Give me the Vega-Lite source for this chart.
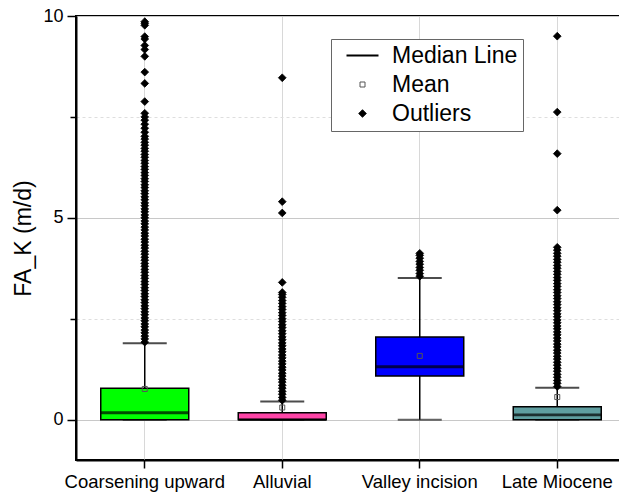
{
  "$schema": "https://vega.github.io/schema/vega-lite/v6.json",
  "width": 550,
  "height": 444,
  "autosize": {"type": "none"},
  "padding": {"left": 76, "top": 16, "right": 0, "bottom": 35},
  "config": {
    "view": {"stroke": "black", "strokeWidth": 2},
    "font": "Liberation Sans",
    "legend": {
      "labelFont": "Liberation Sans",
      "labelFontSize": 23,
      "labelColor": "black",
      "strokeColor": "#666666",
      "fillColor": "white",
      "padding": 5,
      "rowPadding": 5,
      "labelOffset": 18,
      "symbolOffset": 15,
      "symbolOpacity": 1
    }
  },
  "datasets": {
    "boxes": [
      {"cat": "Coarsening upward", "q1": 0, "q3": 0.78, "med": 0.17, "mean": 0.76, "lo": 0, "hi": 1.89},
      {"cat": "Alluvial", "q1": 0, "q3": 0.17, "med": 0.0, "mean": 0.3, "lo": 0, "hi": 0.45},
      {"cat": "Valley incision", "q1": 1.08, "q3": 2.05, "med": 1.31, "mean": 1.58, "lo": 0, "hi": 3.51},
      {"cat": "Late Miocene", "q1": 0, "q3": 0.32, "med": 0.12, "mean": 0.56, "lo": 0, "hi": 0.79}
    ],
    "outliers": [
      {"cat": "Coarsening upward", "v": 1.92}, {"cat": "Coarsening upward", "v": 2.0}, {"cat": "Coarsening upward", "v": 2.07}, {"cat": "Coarsening upward", "v": 2.15}, {"cat": "Coarsening upward", "v": 2.22}, {"cat": "Coarsening upward", "v": 2.3}, {"cat": "Coarsening upward", "v": 2.37}, {"cat": "Coarsening upward", "v": 2.45}, {"cat": "Coarsening upward", "v": 2.52}, {"cat": "Coarsening upward", "v": 2.6}, {"cat": "Coarsening upward", "v": 2.67}, {"cat": "Coarsening upward", "v": 2.75}, {"cat": "Coarsening upward", "v": 2.82}, {"cat": "Coarsening upward", "v": 2.9}, {"cat": "Coarsening upward", "v": 2.97}, {"cat": "Coarsening upward", "v": 3.05}, {"cat": "Coarsening upward", "v": 3.12}, {"cat": "Coarsening upward", "v": 3.2}, {"cat": "Coarsening upward", "v": 3.27}, {"cat": "Coarsening upward", "v": 3.35}, {"cat": "Coarsening upward", "v": 3.42}, {"cat": "Coarsening upward", "v": 3.5}, {"cat": "Coarsening upward", "v": 3.57}, {"cat": "Coarsening upward", "v": 3.65}, {"cat": "Coarsening upward", "v": 3.72}, {"cat": "Coarsening upward", "v": 3.8}, {"cat": "Coarsening upward", "v": 3.87}, {"cat": "Coarsening upward", "v": 3.95}, {"cat": "Coarsening upward", "v": 4.02}, {"cat": "Coarsening upward", "v": 4.1}, {"cat": "Coarsening upward", "v": 4.17}, {"cat": "Coarsening upward", "v": 4.25}, {"cat": "Coarsening upward", "v": 4.32}, {"cat": "Coarsening upward", "v": 4.4}, {"cat": "Coarsening upward", "v": 4.47}, {"cat": "Coarsening upward", "v": 4.55}, {"cat": "Coarsening upward", "v": 4.62}, {"cat": "Coarsening upward", "v": 4.7}, {"cat": "Coarsening upward", "v": 4.77}, {"cat": "Coarsening upward", "v": 4.85}, {"cat": "Coarsening upward", "v": 4.92}, {"cat": "Coarsening upward", "v": 5.0}, {"cat": "Coarsening upward", "v": 5.07}, {"cat": "Coarsening upward", "v": 5.15}, {"cat": "Coarsening upward", "v": 5.22}, {"cat": "Coarsening upward", "v": 5.3}, {"cat": "Coarsening upward", "v": 5.37}, {"cat": "Coarsening upward", "v": 5.45}, {"cat": "Coarsening upward", "v": 5.52}, {"cat": "Coarsening upward", "v": 5.6}, {"cat": "Coarsening upward", "v": 5.67}, {"cat": "Coarsening upward", "v": 5.75}, {"cat": "Coarsening upward", "v": 5.82}, {"cat": "Coarsening upward", "v": 5.9}, {"cat": "Coarsening upward", "v": 5.97}, {"cat": "Coarsening upward", "v": 6.05}, {"cat": "Coarsening upward", "v": 6.12}, {"cat": "Coarsening upward", "v": 6.2}, {"cat": "Coarsening upward", "v": 6.27}, {"cat": "Coarsening upward", "v": 6.35}, {"cat": "Coarsening upward", "v": 6.42}, {"cat": "Coarsening upward", "v": 6.5}, {"cat": "Coarsening upward", "v": 6.57}, {"cat": "Coarsening upward", "v": 6.65}, {"cat": "Coarsening upward", "v": 6.72}, {"cat": "Coarsening upward", "v": 6.8}, {"cat": "Coarsening upward", "v": 6.87}, {"cat": "Coarsening upward", "v": 6.95}, {"cat": "Coarsening upward", "v": 7.02}, {"cat": "Coarsening upward", "v": 7.12}, {"cat": "Coarsening upward", "v": 7.22}, {"cat": "Coarsening upward", "v": 7.32}, {"cat": "Coarsening upward", "v": 7.42}, {"cat": "Coarsening upward", "v": 7.5}, {"cat": "Coarsening upward", "v": 7.59}, {"cat": "Coarsening upward", "v": 7.88}, {"cat": "Coarsening upward", "v": 8.33}, {"cat": "Coarsening upward", "v": 8.61}, {"cat": "Coarsening upward", "v": 9.0}, {"cat": "Coarsening upward", "v": 9.17}, {"cat": "Coarsening upward", "v": 9.27}, {"cat": "Coarsening upward", "v": 9.43}, {"cat": "Coarsening upward", "v": 9.49}, {"cat": "Coarsening upward", "v": 9.77}, {"cat": "Coarsening upward", "v": 9.82}, {"cat": "Coarsening upward", "v": 9.86},
      {"cat": "Alluvial", "v": 0.48}, {"cat": "Alluvial", "v": 0.55}, {"cat": "Alluvial", "v": 0.63}, {"cat": "Alluvial", "v": 0.7}, {"cat": "Alluvial", "v": 0.78}, {"cat": "Alluvial", "v": 0.85}, {"cat": "Alluvial", "v": 0.93}, {"cat": "Alluvial", "v": 1.0}, {"cat": "Alluvial", "v": 1.08}, {"cat": "Alluvial", "v": 1.15}, {"cat": "Alluvial", "v": 1.23}, {"cat": "Alluvial", "v": 1.3}, {"cat": "Alluvial", "v": 1.38}, {"cat": "Alluvial", "v": 1.45}, {"cat": "Alluvial", "v": 1.53}, {"cat": "Alluvial", "v": 1.6}, {"cat": "Alluvial", "v": 1.68}, {"cat": "Alluvial", "v": 1.75}, {"cat": "Alluvial", "v": 1.83}, {"cat": "Alluvial", "v": 1.9}, {"cat": "Alluvial", "v": 1.98}, {"cat": "Alluvial", "v": 2.05}, {"cat": "Alluvial", "v": 2.13}, {"cat": "Alluvial", "v": 2.2}, {"cat": "Alluvial", "v": 2.28}, {"cat": "Alluvial", "v": 2.35}, {"cat": "Alluvial", "v": 2.43}, {"cat": "Alluvial", "v": 2.5}, {"cat": "Alluvial", "v": 2.58}, {"cat": "Alluvial", "v": 2.65}, {"cat": "Alluvial", "v": 2.73}, {"cat": "Alluvial", "v": 2.8}, {"cat": "Alluvial", "v": 2.88}, {"cat": "Alluvial", "v": 2.95}, {"cat": "Alluvial", "v": 3.03}, {"cat": "Alluvial", "v": 3.1}, {"cat": "Alluvial", "v": 3.15}, {"cat": "Alluvial", "v": 3.4}, {"cat": "Alluvial", "v": 5.12}, {"cat": "Alluvial", "v": 5.4}, {"cat": "Alluvial", "v": 8.47},
      {"cat": "Valley incision", "v": 3.55}, {"cat": "Valley incision", "v": 3.62}, {"cat": "Valley incision", "v": 3.7}, {"cat": "Valley incision", "v": 3.77}, {"cat": "Valley incision", "v": 3.85}, {"cat": "Valley incision", "v": 3.92}, {"cat": "Valley incision", "v": 4.0}, {"cat": "Valley incision", "v": 4.07}, {"cat": "Valley incision", "v": 4.12},
      {"cat": "Late Miocene", "v": 0.82}, {"cat": "Late Miocene", "v": 0.9}, {"cat": "Late Miocene", "v": 0.97}, {"cat": "Late Miocene", "v": 1.05}, {"cat": "Late Miocene", "v": 1.12}, {"cat": "Late Miocene", "v": 1.2}, {"cat": "Late Miocene", "v": 1.27}, {"cat": "Late Miocene", "v": 1.35}, {"cat": "Late Miocene", "v": 1.42}, {"cat": "Late Miocene", "v": 1.5}, {"cat": "Late Miocene", "v": 1.57}, {"cat": "Late Miocene", "v": 1.65}, {"cat": "Late Miocene", "v": 1.72}, {"cat": "Late Miocene", "v": 1.8}, {"cat": "Late Miocene", "v": 1.87}, {"cat": "Late Miocene", "v": 1.95}, {"cat": "Late Miocene", "v": 2.02}, {"cat": "Late Miocene", "v": 2.1}, {"cat": "Late Miocene", "v": 2.17}, {"cat": "Late Miocene", "v": 2.25}, {"cat": "Late Miocene", "v": 2.32}, {"cat": "Late Miocene", "v": 2.4}, {"cat": "Late Miocene", "v": 2.47}, {"cat": "Late Miocene", "v": 2.55}, {"cat": "Late Miocene", "v": 2.62}, {"cat": "Late Miocene", "v": 2.7}, {"cat": "Late Miocene", "v": 2.77}, {"cat": "Late Miocene", "v": 2.85}, {"cat": "Late Miocene", "v": 2.92}, {"cat": "Late Miocene", "v": 3.0}, {"cat": "Late Miocene", "v": 3.07}, {"cat": "Late Miocene", "v": 3.15}, {"cat": "Late Miocene", "v": 3.22}, {"cat": "Late Miocene", "v": 3.3}, {"cat": "Late Miocene", "v": 3.37}, {"cat": "Late Miocene", "v": 3.45}, {"cat": "Late Miocene", "v": 3.52}, {"cat": "Late Miocene", "v": 3.6}, {"cat": "Late Miocene", "v": 3.67}, {"cat": "Late Miocene", "v": 3.75}, {"cat": "Late Miocene", "v": 3.82}, {"cat": "Late Miocene", "v": 3.9}, {"cat": "Late Miocene", "v": 3.97}, {"cat": "Late Miocene", "v": 4.05}, {"cat": "Late Miocene", "v": 4.12}, {"cat": "Late Miocene", "v": 4.2}, {"cat": "Late Miocene", "v": 4.27}, {"cat": "Late Miocene", "v": 5.19}, {"cat": "Late Miocene", "v": 6.59}, {"cat": "Late Miocene", "v": 7.62}, {"cat": "Late Miocene", "v": 9.5}
    ]
  },
  "encoding": {
    "x": {
      "field": "cat", "type": "nominal",
      "scale": {"domain": ["Coarsening upward", "Alluvial", "Valley incision", "Late Miocene"], "paddingInner": 0, "paddingOuter": 0},
      "axis": {
        "orient": "bottom", "title": null, "labelAngle": 0,
        "labelFont": "Liberation Sans", "labelFontSize": 18.5, "labelColor": "black", "labelPadding": 4,
        "domainColor": "black", "domainWidth": 2,
        "tickColor": "black", "tickWidth": 1.5, "tickSize": 8,
        "grid": true, "gridColor": "#d8d8d8", "gridWidth": 1
      }
    }
  },
  "layer": [
    {
      "data": {"name": "boxes"},
      "mark": {"type": "rule", "color": "black", "strokeWidth": 1.5},
      "encoding": {
        "y": {
          "field": "lo", "type": "quantitative",
          "scale": {"domain": [-1, 10], "nice": false, "zero": false},
          "axis": {
            "title": "FA_K (m/d)", "titleFont": "Liberation Sans", "titleFontSize": 23, "titleFontWeight": "normal", "titleColor": "black", "titlePadding": 7,
            "values": [0, 2.5, 5, 7.5, 10],
            "labelExpr": "datum.value % 5 == 0 ? datum.label : ''",
            "labelFont": "Liberation Sans", "labelFontSize": 18, "labelColor": "black", "labelPadding": 4,
            "domainColor": "black", "domainWidth": 2,
            "tickColor": "black", "tickWidth": 1.5,
            "tickSize": {"condition": {"test": "datum.value % 5 == 0", "value": 9}, "value": 6},
            "grid": true,
            "gridColor": {"condition": {"test": "datum.value % 5 == 0", "value": "#c8c8c8"}, "value": "#dedede"},
            "gridDash": {"condition": {"test": "datum.value % 5 == 0", "value": []}, "value": [3, 3]},
            "gridWidth": 1
          }
        },
        "y2": {"field": "hi"}
      }
    },
    {
      "data": {"name": "boxes"},
      "mark": {"type": "tick", "color": "black", "size": 44, "thickness": 2},
      "encoding": {
        "y": {"field": "hi", "type": "quantitative"}
      }
    },
    {
      "data": {"name": "boxes"},
      "mark": {"type": "tick", "color": "#222222", "size": 44, "thickness": 2},
      "encoding": {
        "y": {"field": "lo", "type": "quantitative"}
      }
    },
    {
      "data": {"name": "boxes"},
      "mark": {"type": "bar", "width": 88, "stroke": "black", "strokeWidth": 1.5, "opacity": 1},
      "encoding": {
        "y": {"field": "q1", "type": "quantitative"},
        "y2": {"field": "q3"},
        "color": {
          "field": "cat", "type": "nominal", "legend": null,
          "scale": {"domain": ["Coarsening upward", "Alluvial", "Valley incision", "Late Miocene"], "range": ["#00ff00", "#ff45a8", "#0000ff", "#5f9ea0"]}
        }
      }
    },
    {
      "data": {"name": "boxes"},
      "mark": {"type": "tick", "color": "black", "size": 88, "thickness": 2.8},
      "encoding": {
        "y": {"field": "med", "type": "quantitative"}
      }
    },
    {
      "data": {"name": "boxes"},
      "mark": {"type": "point", "filled": true, "opacity": 1},
      "encoding": {
        "y": {"field": "mean", "type": "quantitative"},
        "shape": {"datum": "Mean", "type": "nominal",
          "scale": {"domain": ["Median Line", "Mean", "Outliers"], "range": ["M-2,0L2,0", "square", "diamond"]},
          "legend": {"title": null, "orient": "none", "legendX": 255, "legendY": 23}},
        "fill": {"datum": "Mean", "type": "nominal",
          "scale": {"domain": ["Median Line", "Mean", "Outliers"], "range": ["transparent", "transparent", "black"]},
          "legend": {"title": null}},
        "stroke": {"datum": "Mean", "type": "nominal",
          "scale": {"domain": ["Median Line", "Mean", "Outliers"], "range": ["black", "#555555", "black"]},
          "legend": {"title": null}},
        "size": {"datum": "Mean", "type": "nominal",
          "scale": {"type": "ordinal", "domain": ["Median Line", "Mean", "Outliers"], "range": [256, 25, 60]},
          "legend": {"title": null}},
        "strokeWidth": {"datum": "Mean", "type": "nominal",
          "scale": {"type": "ordinal", "domain": ["Median Line", "Mean", "Outliers"], "range": [2, 1, 0.8]},
          "legend": {"title": null}}
      }
    },
    {
      "data": {"name": "outliers"},
      "mark": {"type": "point", "filled": true, "opacity": 1},
      "encoding": {
        "y": {"field": "v", "type": "quantitative"},
        "shape": {"datum": "Outliers", "type": "nominal",
          "scale": {"domain": ["Median Line", "Mean", "Outliers"], "range": ["M-2,0L2,0", "square", "diamond"]},
          "legend": {"title": null, "orient": "none", "legendX": 255, "legendY": 23}},
        "fill": {"datum": "Outliers", "type": "nominal",
          "scale": {"domain": ["Median Line", "Mean", "Outliers"], "range": ["transparent", "transparent", "black"]},
          "legend": {"title": null}},
        "stroke": {"datum": "Outliers", "type": "nominal",
          "scale": {"domain": ["Median Line", "Mean", "Outliers"], "range": ["black", "#555555", "black"]},
          "legend": {"title": null}},
        "size": {"datum": "Outliers", "type": "nominal",
          "scale": {"type": "ordinal", "domain": ["Median Line", "Mean", "Outliers"], "range": [256, 25, 60]},
          "legend": {"title": null}},
        "strokeWidth": {"datum": "Outliers", "type": "nominal",
          "scale": {"type": "ordinal", "domain": ["Median Line", "Mean", "Outliers"], "range": [2, 1, 0.8]},
          "legend": {"title": null}}
      }
    }
  ]
}
